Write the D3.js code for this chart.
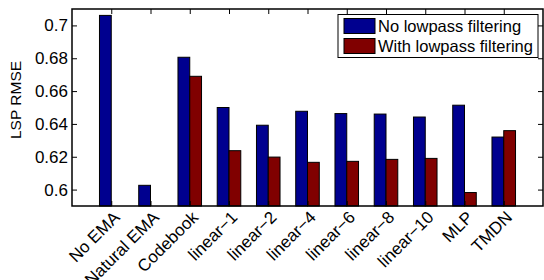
<!DOCTYPE html>
<html>
<head>
<meta charset="utf-8">
<script src="https://cdn.jsdelivr.net/npm/d3@7/dist/d3.min.js"></script>
<style>
 body { margin: 0; background: #fff; }
 svg { font-family: "Liberation Sans", Arial, sans-serif; }
</style>
</head>
<body>
<svg width="544" height="280"></svg>
<script>
var categories = ["No EMA", "Natural EMA", "Codebook", "linear\u22121", "linear\u22122", "linear\u22124",
                  "linear\u22126", "linear\u22128", "linear\u221210", "MLP", "TMDN"];
var noLowpass   = [0.7061, 0.6026, 0.6806, 0.6500, 0.6392, 0.6477, 0.6463, 0.6460, 0.6442, 0.6514, 0.6320];
var withLowpass = [null,   null,   0.6690, 0.6237, 0.6198, 0.6166, 0.6172, 0.6184, 0.6190, 0.5982, 0.6359];
var yTicks = [0.6, 0.62, 0.64, 0.66, 0.68, 0.7];
var seriesNames = ["No lowpass filtering", "With lowpass filtering"];
var colors = ["#00008f", "#800000"];

var svg = d3.select("svg"),
    margin = {top: 9, right: 1, bottom: 74, left: 72},
    width = +svg.attr("width") - margin.left - margin.right,
    height = +svg.attr("height") - margin.top - margin.bottom,
    g = svg.append("g").attr("transform", "translate(" + margin.left + "," + margin.top + ")");

var x = d3.scaleLinear().domain([0, categories.length + 1]).range([0, width]);
var y = d3.scaleLinear().domain([0.59, 0.71]).range([height, 0]);
var step = x(1) - x(0);
var bw = step * 0.3;

// bars
[noLowpass, withLowpass].forEach(function(vals, s) {
    g.append("g").selectAll("rect")
        .data(vals.map(function(v, i) { return {v: v, i: i}; }).filter(function(d) { return d.v != null; }))
        .enter().append("rect")
        .attr("x", function(d) { return x(d.i + 1) - bw + s * bw; })
        .attr("y", function(d) { return y(d.v); })
        .attr("width", bw)
        .attr("height", function(d) { return height - y(d.v); })
        .attr("fill", colors[s])
        .attr("stroke", "#000")
        .attr("stroke-width", 1);
});

// axes (ticks inward, boxed)
var tickPos = d3.range(1, categories.length + 1);
var xAxisB = d3.axisBottom(x).tickValues(tickPos).tickSize(-5).tickFormat("");
var xAxisT = d3.axisTop(x).tickValues(tickPos).tickSize(-5).tickFormat("");
var yAxisL = d3.axisLeft(y).tickValues(yTicks).tickSize(-5).tickPadding(4)
    .tickFormat(function(d) { return d3.format("")(+d.toFixed(2)); });
var yAxisR = d3.axisRight(y).tickValues(yTicks).tickSize(-5).tickFormat("");

g.append("g").attr("transform", "translate(0," + height + ")").call(xAxisB);
g.append("g").call(xAxisT);
var yl = g.append("g").call(yAxisL);
g.append("g").attr("transform", "translate(" + width + ",0)").call(yAxisR);

g.selectAll(".domain").remove();
g.selectAll(".tick line").attr("stroke", "#000");
yl.selectAll("text").style("font-size", "17px").attr("fill", "#000");

g.append("rect").attr("x", 0).attr("y", 0).attr("width", width).attr("height", height)
    .attr("fill", "none").attr("stroke", "#000").attr("stroke-width", 1.5);

// rotated category labels
g.append("g").selectAll("text")
    .data(categories)
    .enter().append("text")
    .attr("transform", function(d, i) { return "translate(" + (x(i + 1) + 1) + "," + (height + 4) + ") rotate(-45)"; })
    .attr("text-anchor", "end")
    .attr("dy", "0.7em")
    .style("font-size", "17px")
    .text(function(d) { return d; });

// y label
svg.append("text")
    .attr("transform", "translate(21,100) rotate(-90)")
    .attr("text-anchor", "middle")
    .style("font-size", "15.5px")
    .text("LSP RMSE");

// legend
var leg = svg.append("g").attr("transform", "translate(338,14.5)");
leg.append("rect").attr("width", 200).attr("height", 43)
    .attr("fill", "#fff").attr("stroke", "#000").attr("stroke-width", 1);
seriesNames.forEach(function(name, s) {
    leg.append("rect").attr("x", 6).attr("y", 4 + s * 20).attr("width", 31).attr("height", 15)
        .attr("fill", colors[s]).attr("stroke", "#000");
    leg.append("text").attr("x", 40).attr("y", 17 + s * 20)
        .style("font-size", "16.5px")
        .text(name);
});
</script>
</body>
</html>
